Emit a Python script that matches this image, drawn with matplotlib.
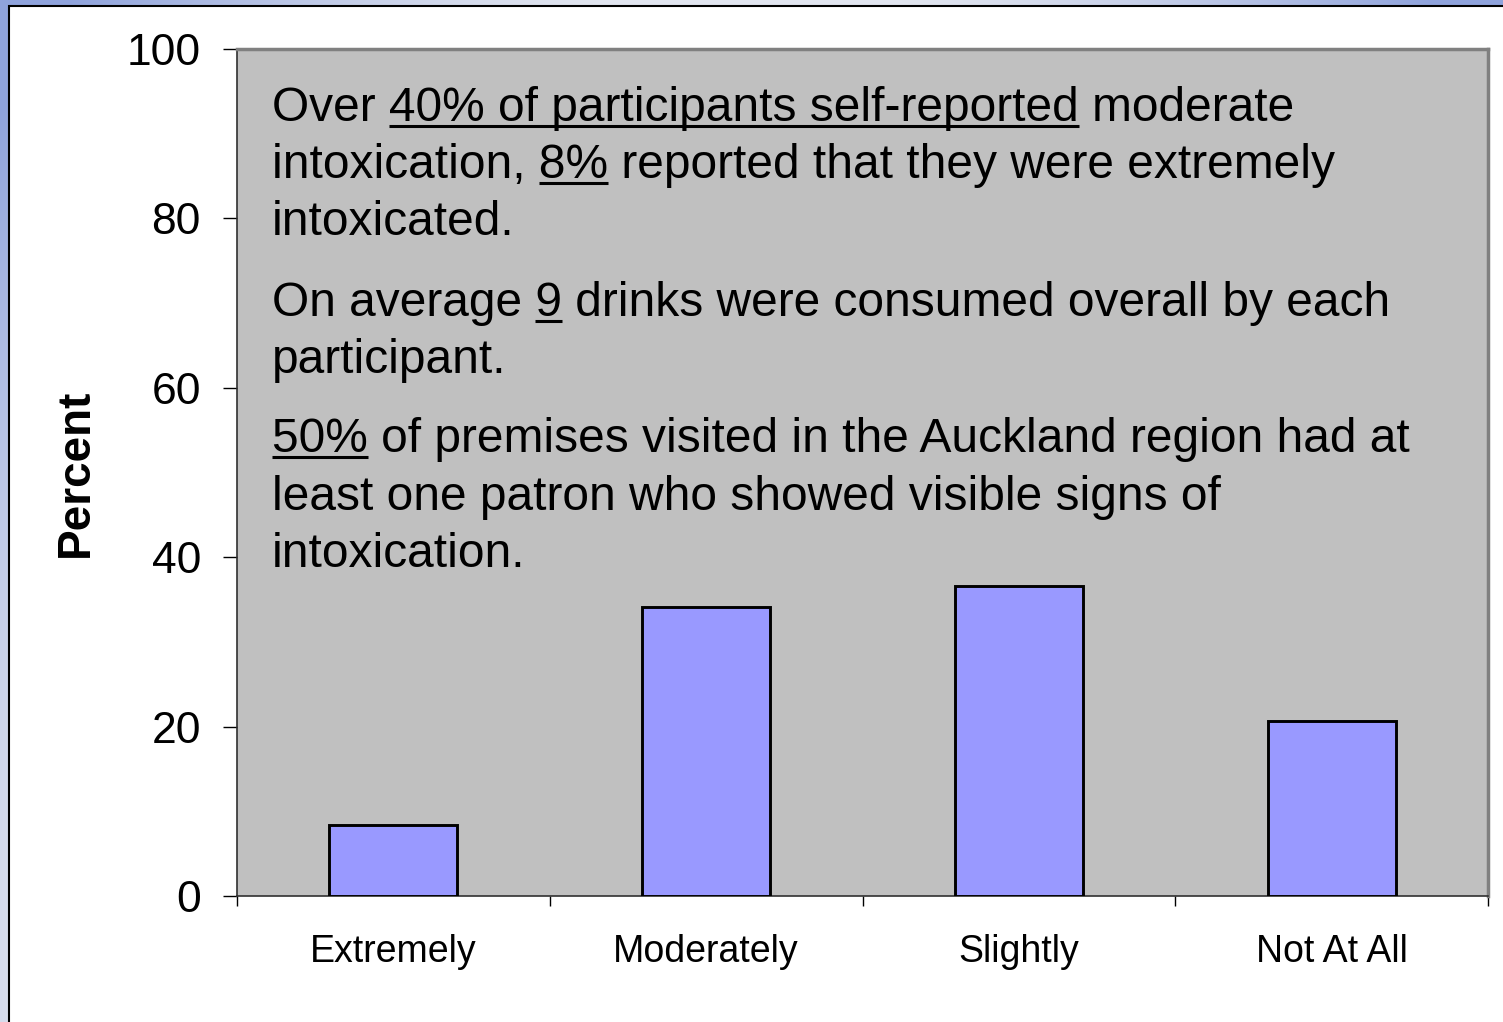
import numpy as np
import matplotlib
matplotlib.use("Agg")
import matplotlib.pyplot as plt
from matplotlib.patches import Rectangle
from matplotlib.colors import to_rgb

# chart data
categories = ["Extremely", "Moderately", "Slightly", "Not At All"]
percent = [8.4, 34.1, 36.6, 20.7]
y_ticks = [0, 20, 40, 60, 80, 100]

# annotation text: each line is a list of (text, underlined) pieces
note_lines = [
    [("Over ", False), ("40% of participants self-reported", True), (" moderate", False)],
    [("intoxication, ", False), ("8%", True), (" reported that they were extremely", False)],
    [("intoxicated.", False)],
    [("On average ", False), ("9", True), (" drinks were consumed overall by each", False)],
    [("participant.", False)],
    [("50%", True), (" of premises visited in the Auckland region had at", False)],
    [("least one patron who showed visible signs of", False)],
    [("intoxication.", False)],
]
note_baselines = [91.5, 84.8, 78.0, 68.5, 61.7, 52.4, 45.6, 38.8]

FONT = "Liberation Sans"
plt.rcParams["font.family"] = FONT

W, H = 1503, 1022
fig = plt.figure(figsize=(W / 100, H / 100), dpi=100)

# slide background gradient (blue corners fading to pale)
bg = fig.add_axes([0, 0, 1, 1], zorder=-10)
xx, yy = np.meshgrid(np.arange(W), np.arange(H))
d = np.sqrt(((xx - 750) / 750) ** 2 + ((yy - 1022) / 1100) ** 2)
t = np.clip((d - 0.95) / 0.35, 0, 1)[..., None]
blue = np.array(to_rgb("#8fa3dc"))
pale = np.array(to_rgb("#e1e5ef"))
bg.imshow(pale * (1 - t) + blue * t, aspect="auto", extent=[0, W, H, 0])
bg.axis("off")

# white chart panel
fig.patches.append(Rectangle((9 / W, -0.05), 1.1, (H - 6) / H + 0.05,
                             transform=fig.transFigure, facecolor="white",
                             edgecolor="black", linewidth=1.5, zorder=-5))

ax = fig.add_axes([237 / W, 126 / H, 1251 / W, 847 / H])
ax.set_facecolor("#c0c0c0")

x = np.arange(len(categories))
ax.bar(x, percent, width=0.41, color="#9999ff", edgecolor="black", linewidth=2.1, zorder=3)

ax.set_xlim(-0.5, len(categories) - 0.5)
ax.set_ylim(0, 100)
ax.set_yticks(y_ticks)
ax.tick_params(axis="y", length=10, width=1, pad=16, labelsize=32, direction="out")
ax.set_xticks(x)
ax.set_xticklabels(categories)
ax.tick_params(axis="x", which="major", length=0, pad=27, labelsize=27)
ax.set_xticks(np.arange(len(categories) + 1) - 0.5, minor=True)
ax.tick_params(axis="x", which="minor", length=7, width=1, direction="out")

for side in ["top", "right"]:
    ax.spines[side].set_color("#808080")
    ax.spines[side].set_linewidth(2.5)
for side in ["left", "bottom"]:
    ax.spines[side].set_color("#303030")
    ax.spines[side].set_linewidth(1.2)

ax.set_ylabel("Percent", fontsize=33, fontweight="bold", labelpad=21)

# annotation with underlined pieces
renderer = fig.canvas.get_renderer()
NOTE_SIZE = 34.5


def text_width(s):
    # width in pixels, robust to trailing/leading spaces
    tmp = fig.text(0, 0, "X" + s + "X", fontsize=NOTE_SIZE)
    w = tmp.get_window_extent(renderer).width
    tmp.remove()
    tmp = fig.text(0, 0, "XX", fontsize=NOTE_SIZE)
    w -= tmp.get_window_extent(renderer).width
    tmp.remove()
    return w


x0_px = 272
to_data = ax.transData.inverted()
for pieces, base in zip(note_lines, note_baselines):
    full = "".join(p for p, _ in pieces)
    x0 = to_data.transform((x0_px, 0))[0]
    ax.text(x0, base, full, fontsize=NOTE_SIZE, va="baseline", ha="left", zorder=4)
    base_px = ax.transData.transform((0, base))[1]
    cursor = x0_px
    for piece, under in pieces:
        w = text_width(piece)
        if under:
            xa = to_data.transform((cursor, base_px - 5))
            xb = to_data.transform((cursor + w, base_px - 5))
            ax.plot([xa[0], xb[0]], [xa[1], xb[1]], color="black", linewidth=2.2,
                    solid_capstyle="butt", zorder=4)
        cursor += w

fig.savefig("out.png", dpi=100)
